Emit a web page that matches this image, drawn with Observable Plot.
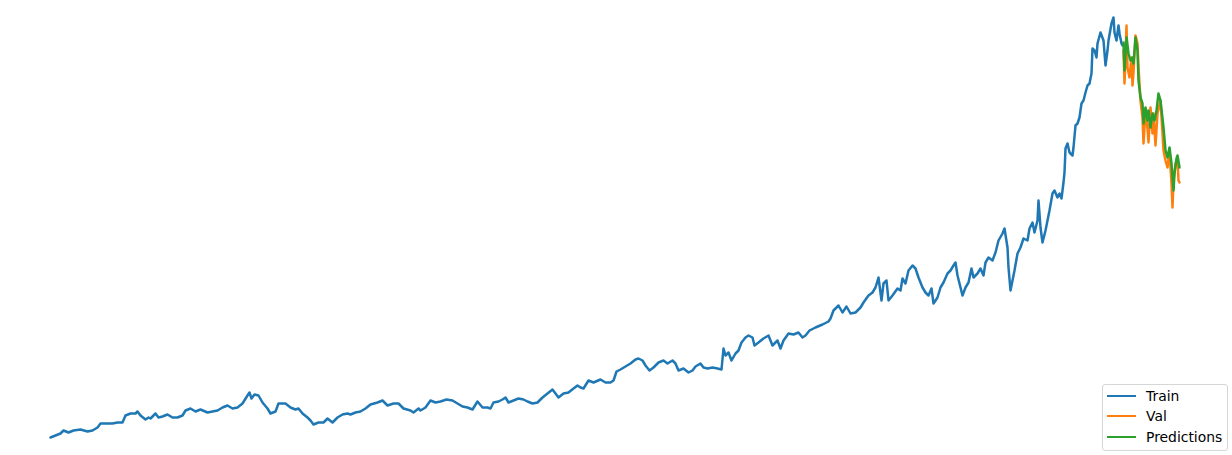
<!DOCTYPE html>
<html><head><meta charset="utf-8">
<script src="https://cdn.jsdelivr.net/npm/d3@7"></script>
<script src="https://cdn.jsdelivr.net/npm/@observablehq/plot@0.6"></script>
<style>
body{margin:0;background:#fff;}
#wrap{position:relative;width:1232px;height:455px;overflow:hidden;}
.legend{position:absolute;left:1102px;top:384px;width:124px;height:65px;border:1px solid #d6d6d6;border-radius:3px;background:rgba(255,255,255,0.8);font-family:"DejaVu Sans",sans-serif;font-size:13.9px;color:#000;}
.sw{position:absolute;left:4px;width:29px;height:2px;}
.lab{position:absolute;left:43px;height:20px;line-height:20px;white-space:nowrap;}
</style></head>
<body><div id="wrap"></div>
<script>
// Trading-day index and closing price
const trainDay = [0,5,10,13,18,23,30,37,42,47,50,57,62,67,72,75,80,85,87,90,95,98,100,105,108,112,117,122,127,132,135,140,145,150,157,162,167,172,177,182,187,192,197,199,201,204,208,212,217,220,225,228,235,240,245,248,252,257,260,263,268,273,277,282,287,292,297,300,305,310,315,320,327,332,337,343,348,353,360,363,368,370,375,380,385,390,396,402,407,412,417,422,427,432,437,440,443,448,452,455,458,463,468,473,477,482,487,492,497,502,505,508,513,518,523,527,530,533,538,543,550,555,560,563,566,570,575,580,585,588,592,595,599,603,608,613,617,622,625,628,633,638,642,645,650,653,657,662,667,671,673,675,678,681,685,688,691,695,698,702,704,708,713,718,722,727,730,733,738,743,748,752,755,759,765,772,778,780,783,788,792,796,800,805,810,813,818,822,825,828,831,833,836,838,842,847,850,852,855,858,862,865,868,872,875,878,881,883,887,890,893,897,900,903,905,907,910,912,915,918,921,923,927,930,933,935,938,942,945,948,952,954,957,958,960,962,964,967,970,973,977,979,982,984,987,988,990,992,995,997,999,1002,1004,1007,1009,1011,1013,1014,1015,1017,1019,1022,1023,1025,1027,1029,1031,1033,1035,1037,1039,1041,1042,1044,1046,1047,1050,1053,1055,1057,1058,1061,1063,1064,1066,1068,1069,1071,1072];
const trainClose = [23,25,27,30,28,30,31,29,30,33,37,37,37,38,38,45,47,47,49,45,41,43,42,47,43,44,46,43,43,45,50,52,49,51,48,49,50,53,55,52,53,57,65,68,62,66,65,58,52,47,49,57,57,53,51,52,47,43,40,36,38,38,42,38,43,46,47,46,48,49,52,56,58,60,55,57,57,52,50,48,52,50,53,60,58,59,61,60,57,54,53,51,59,53,53,52,58,59,61,63,58,60,62,61,59,57,58,63,67,71,67,63,67,68,72,75,73,72,80,78,81,78,78,80,89,91,94,97,101,102,100,95,90,93,98,100,97,100,97,90,92,88,90,94,97,93,92,93,92,91,112,105,108,100,107,110,118,123,125,123,115,118,122,125,115,120,112,120,127,126,128,123,125,130,133,136,139,142,150,155,148,154,147,148,153,158,165,168,173,183,160,177,180,160,165,172,170,182,177,190,195,192,183,173,168,165,172,157,163,173,178,187,190,195,198,185,173,165,173,178,192,183,187,192,185,198,203,200,208,220,227,232,213,193,170,180,190,207,213,222,220,232,238,228,240,260,233,218,230,240,250,267,270,263,267,262,278,288,312,317,308,305,313,335,337,343,357,360,368,375,377,387,412,410,403,417,428,420,395,410,420,437,443,428,420,435,427,417,415];
const valDay = [1073,1074,1075,1076,1077,1079,1081,1082,1083,1085,1087,1088,1090,1092,1093,1095,1097,1098,1100,1102,1103,1105,1107,1110,1112,1113,1115,1117,1119,1121,1122,1123,1125,1127,1128,1129];
const valClose = [410,377,402,435,393,383,403,375,388,425,417,393,360,343,317,350,332,318,353,327,347,315,347,360,327,310,300,293,310,277,253,280,297,300,280,278];
const predDay = [1073,1074,1076,1078,1080,1082,1083,1085,1087,1088,1090,1092,1093,1095,1097,1098,1100,1102,1104,1106,1108,1110,1113,1115,1117,1119,1121,1123,1124,1126,1127,1129];
const predClose = [418,390,423,407,400,403,397,423,410,380,363,357,337,353,340,350,333,347,340,350,367,360,333,310,303,313,297,270,287,302,305,293];
const seriesNames = ["Train","Val","Predictions"];
const seriesColors = ["#1f77b4","#ff7f0e","#2ca02c"];

const toRows = (days, closes) => days.map((d, i) => ({day: d, close: closes[i]}));
const train = toRows(trainDay, trainClose);
const val = toRows(valDay, valClose);
const pred = toRows(predDay, predClose);

const chart = Plot.plot({
  width: 1232,
  height: 455,
  margin: 0,
  x: {domain: [-50, 1182], axis: null},
  y: {domain: [5, 460], axis: null},
  marks: [
    Plot.line(train, {x: "day", y: "close", stroke: seriesColors[0], strokeWidth: 2.5}),
    Plot.line(val, {x: "day", y: "close", stroke: seriesColors[1], strokeWidth: 2.5}),
    Plot.line(pred, {x: "day", y: "close", stroke: seriesColors[2], strokeWidth: 2.5})
  ]
});
const wrap = document.getElementById("wrap");
wrap.appendChild(chart);

const lg = document.createElement("div");
lg.className = "legend";
const centers = [10.5, 31, 52];
seriesNames.forEach((name, i) => {
  const sw = document.createElement("div");
  sw.className = "sw";
  sw.style.top = (centers[i] - 1) + "px";
  sw.style.background = seriesColors[i];
  lg.appendChild(sw);
  const lab = document.createElement("div");
  lab.className = "lab";
  lab.style.top = (centers[i] - 10) + "px";
  lab.textContent = name;
  lg.appendChild(lab);
});
wrap.appendChild(lg);
</script>
</body></html>
